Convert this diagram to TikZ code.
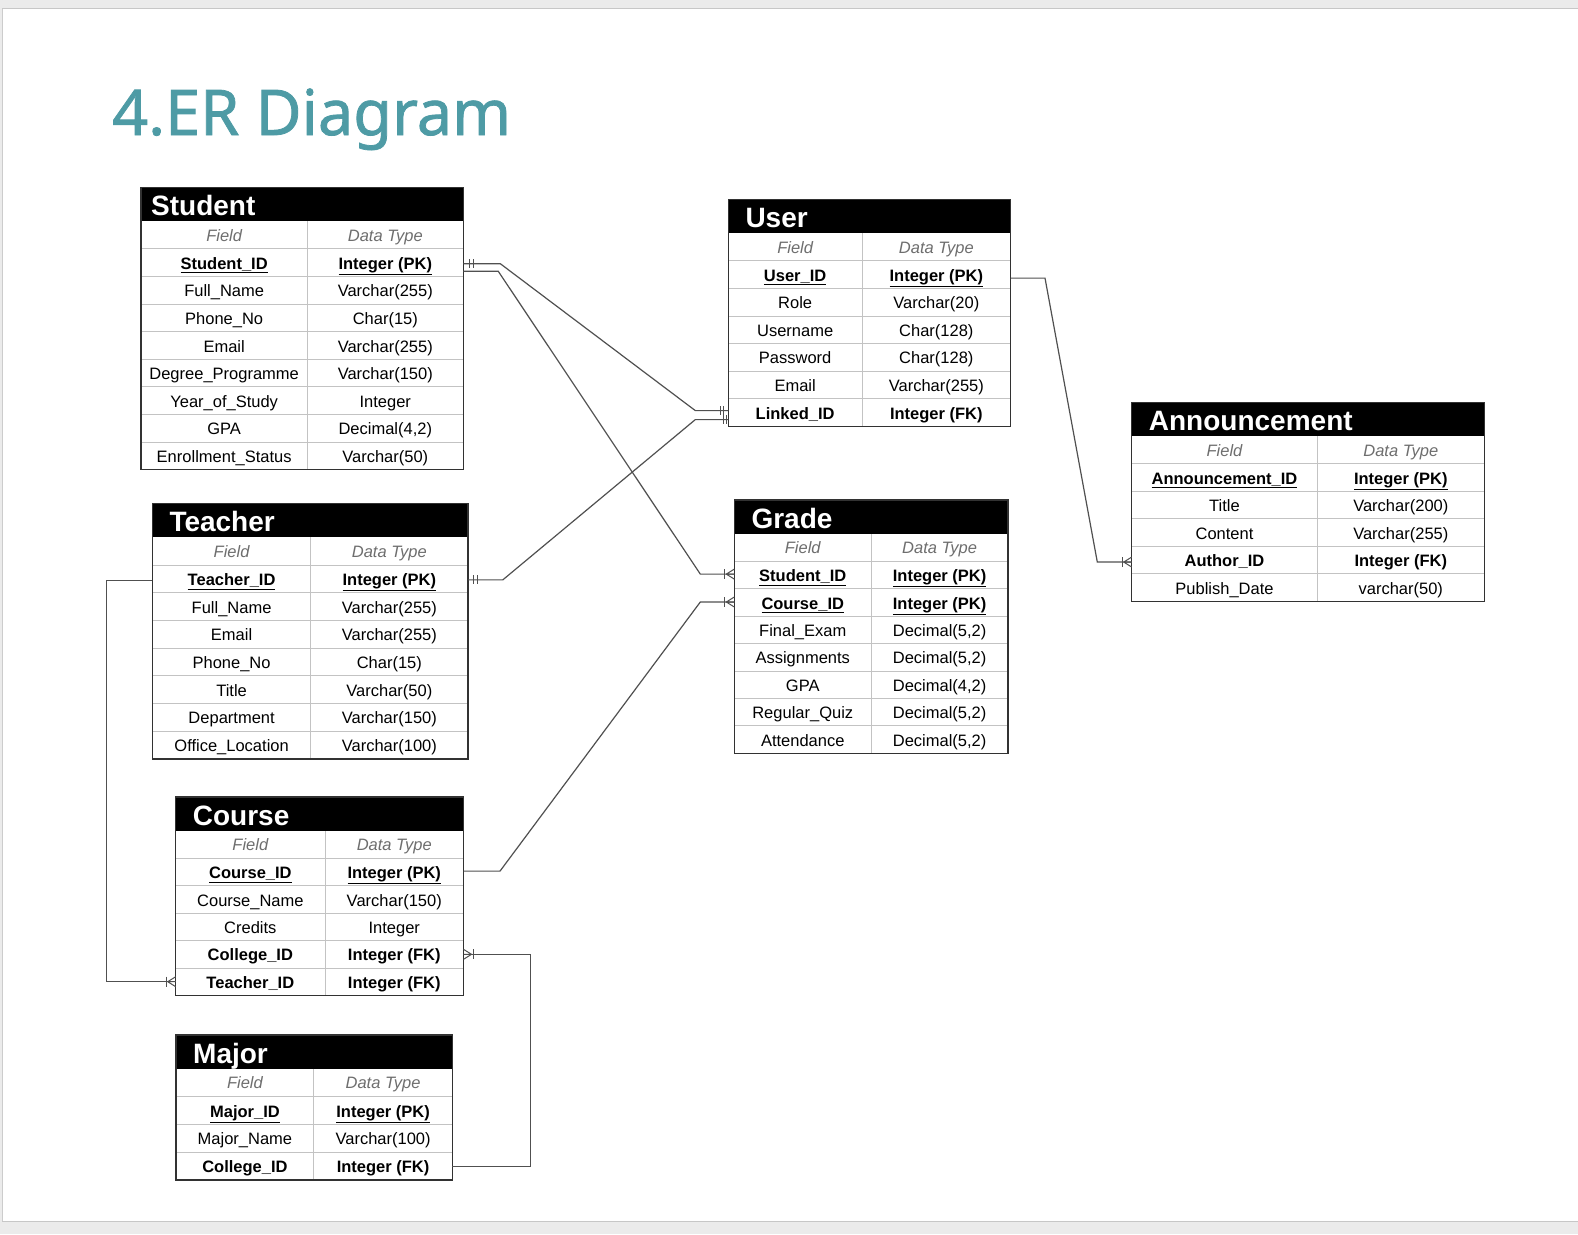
\documentclass[tikz,border=0pt]{standalone}
\usepackage{fontspec}
\setmainfont{Liberation Sans}
\newfontfamily\titlefont[FakeBold=1.2]{Noto Sans}
\usetikzlibrary{calc}
\definecolor{teal1}{RGB}{78,155,165}
\definecolor{conncol}{RGB}{80,80,80}
\definecolor{gridcol}{RGB}{195,195,195}
\definecolor{bordcol}{RGB}{50,50,50}
\definecolor{hdrgray}{RGB}{110,110,110}
\newcommand\PK[1]{\textbf{\underline{#1}}}
\newcommand\FK[1]{\textbf{#1}}
\tikzset{
  conn/.style={draw=conncol, line width=1.2pt},
  gridline/.style={draw=gridcol, line width=0.9pt},
  outerline/.style={draw=bordcol, line width=1.4pt},
  tabtitle/.style={text=white, inner sep=0pt, font=\fontsize{28}{30}\selectfont\bfseries},
  cell/.style={inner sep=0pt, anchor=base, font=\fontsize{16.5}{19}\selectfont},
  hdrcell/.style={cell, text=hdrgray, font=\fontsize{16.5}{19}\selectfont\itshape},
}
% #1 name #2 left #3 top #4 right #5 divider #6 row height #7 title offset #8 title #9 rows
\newcommand\ertable[9]{%
  \pgfmathsetmacro\tHB{#3+34}%
  \fill[black] (#2,#3) rectangle (#4,\tHB);
  \node[tabtitle, anchor=base west] (#1) at (#2+#7,#3+28) {#8};
  \node[hdrcell] (#1-f0) at ({(#2+#5)/2},{\tHB+#6/2+6}) {Field};
  \node[hdrcell] (#1-t0) at ({(#5+#4)/2},{\tHB+#6/2+6}) {Data Type};
  \foreach \fld/\typ [count=\i] in {#9} {
    \pgfmathsetmacro\yc{#3+34+(\i+0.5)*#6}
    \pgfmathsetmacro\yt{#3+34+\i*#6}
    \draw[gridline] (#2,\yt) -- (#4,\yt);
    \node[cell] (#1-f\i) at ({(#2+#5)/2},\yc+6.5) {\fld};
    \node[cell] (#1-t\i) at ({(#5+#4)/2},\yc+6.5) {\typ};
    \coordinate (#1-w\i) at (#2,\yc);
    \coordinate (#1-e\i) at (#4,\yc);
    \xdef\nrows{\i}
  }
  \pgfmathsetmacro\tBot{#3+34+(\nrows+1)*#6}%
  \draw[gridline] (#5,\tHB) -- (#5,\tBot);
  \draw[outerline] (#2,#3) rectangle (#4,\tBot);
}
% crow's foot: #1 coordinate at table edge, #2 = 1 if table lies to the right, -1 if to the left
\newcommand\crow[2]{%
  \draw[conn, line width=1pt] ($(#1)+(#2*-8,0)$) -- ($(#1)+(0,-5)$)
    ($(#1)+(#2*-8,0)$) -- (#1)
    ($(#1)+(#2*-8,0)$) -- ($(#1)+(0,5)$);
  \draw[conn, line width=1pt] ($(#1)+(#2*-9.5,-5)$) -- ($(#1)+(#2*-9.5,5)$);
}
% two bars: #1 coordinate, #2 #3 x offsets
\newcommand\bars[3]{%
  \draw[conn, line width=1pt] ($(#1)+(#2,-4.5)$) -- ($(#1)+(#2,4.5)$)
    ($(#1)+(#3,-4.5)$) -- ($(#1)+(#3,4.5)$);
}
\begin{document}
\begin{tikzpicture}[x=1pt,y=-1pt]
\useasboundingbox (0,0) rectangle (1578,1234);
% page frame
\fill[black!8] (0,0) rectangle (1578,1234);
\fill[white] (3,9) rectangle (1578,1221);
\draw[black!22, line width=1.5pt] (2,8.5) -- (1578,8.5);
\draw[black!20, line width=1pt] (2.5,9) -- (2.5,1221);
\draw[black!22, line width=1.5pt] (2,1221.5) -- (1578,1221.5);
% title
\node[anchor=base west, inner sep=0pt, text=teal1, font=\titlefont\fontsize{63}{70}\selectfont] (title) at (112,135) {4.ER Diagram};
% tables
\ertable{student}{141}{187.3}{463.3}{307.3}{27.6}{10}{Student}{
  {\PK{Student\_ID}}/{\PK{Integer (PK)}},
  {Full\_Name}/{Varchar(255)},
  {Phone\_No}/{Char(15)},
  {Email}/{Varchar(255)},
  {Degree\_Programme}/{Varchar(150)},
  {Year\_of\_Study}/{Integer},
  {GPA}/{Decimal(4,2)},
  {Enrollment\_Status}/{Varchar(50)}}
\ertable{user}{728.3}{199.2}{1010.7}{862}{27.6}{17}{User}{
  {\PK{User\_ID}}/{\PK{Integer (PK)}},
  {Role}/{Varchar(20)},
  {Username}/{Char(128)},
  {Password}/{Char(128)},
  {Email}/{Varchar(255)},
  {\FK{Linked\_ID}}/{\FK{Integer (FK)}}}
\ertable{announce}{1131.7}{402.3}{1484.3}{1317.3}{27.5}{17}{Announcement}{
  {\PK{Announcement\_ID}}/{\PK{Integer (PK)}},
  {Title}/{Varchar(200)},
  {Content}/{Varchar(255)},
  {\FK{Author\_ID}}/{\FK{Integer (FK)}},
  {Publish\_Date}/{varchar(50)}}
\ertable{teacher}{152.3}{503.3}{467.8}{310.9}{27.7}{17}{Teacher}{
  {\PK{Teacher\_ID}}/{\PK{Integer (PK)}},
  {Full\_Name}/{Varchar(255)},
  {Email}/{Varchar(255)},
  {Phone\_No}/{Char(15)},
  {Title}/{Varchar(50)},
  {Department}/{Varchar(150)},
  {Office\_Location}/{Varchar(100)}}
\ertable{grade}{734.3}{500}{1008}{871.2}{27.4}{17}{Grade}{
  {\PK{Student\_ID}}/{\PK{Integer (PK)}},
  {\PK{Course\_ID}}/{\PK{Integer (PK)}},
  {Final\_Exam}/{Decimal(5,2)},
  {Assignments}/{Decimal(5,2)},
  {GPA}/{Decimal(4,2)},
  {Regular\_Quiz}/{Decimal(5,2)},
  {Attendance}/{Decimal(5,2)}}
\ertable{course}{175.7}{797}{463.5}{325}{27.4}{17}{Course}{
  {\PK{Course\_ID}}/{\PK{Integer (PK)}},
  {Course\_Name}/{Varchar(150)},
  {Credits}/{Integer},
  {\FK{College\_ID}}/{\FK{Integer (FK)}},
  {\FK{Teacher\_ID}}/{\FK{Integer (FK)}}}
\ertable{major}{176}{1035}{452.3}{313.9}{27.75}{17}{Major}{
  {\PK{Major\_ID}}/{\PK{Integer (PK)}},
  {Major\_Name}/{Varchar(100)},
  {\FK{College\_ID}}/{\FK{Integer (FK)}}}
% connector end points
\coordinate (s1) at ($(student-e1)+(0,1)$);
\coordinate (s2) at ($(student-e1)+(0,8.6)$);
\coordinate (u1) at ($(user-w6)+(0,-2)$);
\coordinate (u2) at ($(user-w6)+(0,7)$);
\coordinate (g1) at ($(grade-w1)+(0,-1)$);
\coordinate (g2) at ($(grade-w2)+(0,-0.5)$);
\coordinate (t1) at ($(teacher-e1)+(0,1)$);
\coordinate (tl) at ($(teacher-w1)+(0,1.5)$);
\coordinate (c1) at ($(course-e1)+(0,-1)$);
\coordinate (cl5) at (course-w5);
\coordinate (cr4) at (course-e4);
\coordinate (m3) at (major-e3);
\coordinate (ue1) at ($(user-e1)+(0,3.5)$);
\coordinate (a4) at ($(announce-w4)+(0,2)$);
% connectors
\draw[conn] (s1) -- ($(s1)+(37,0)$) -- ($(u1)+(-33,0)$) -- (u1);
\draw[conn] (s2) -- ($(s2)+(35,0)$) -- ($(g1)+(-34,0)$) -- (g1);
\draw[conn] (t1) -- ($(t1)+(35,0)$) -- ($(u2)+(-33,0)$) -- (u2);
\draw[conn] (c1) -- ($(c1)+(36.5,0)$) -- ($(g2)+(-34,0)$) -- (g2);
\draw[conn] (tl) -- ($(tl)+(-45.6,0)$) |- (cl5);
\draw[conn] (cr4) -- ($(cr4)+(67.2,0)$) |- (m3);
\draw[conn] (ue1) -- ($(ue1)+(34.3,0)$) -- ($(a4)+(-34.4,0)$) -- (a4);
% end marks
\bars{s1}{6}{10}
\bars{t1}{6}{10}
\bars{u1}{-8}{-5}
\bars{u2}{-5}{-1.7}
\crow{g1}{1}
\crow{g2}{1}
\crow{cl5}{1}
\crow{cr4}{-1}
\crow{a4}{1}
\end{tikzpicture}
\end{document}
